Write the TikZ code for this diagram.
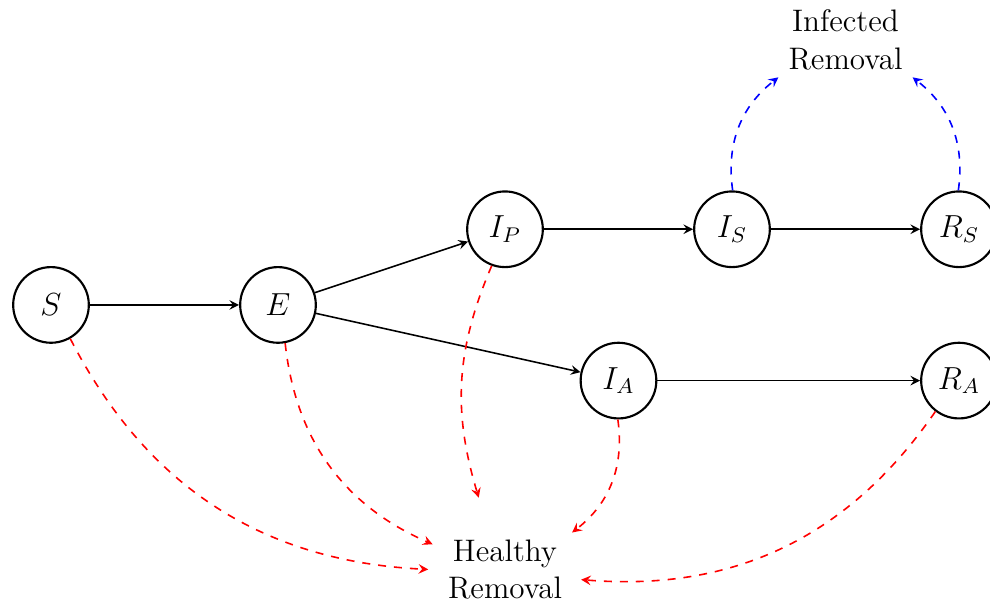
\documentclass[tikz,border=0pt]{standalone}
\usetikzlibrary{arrows}

\begin{document}
\begin{tikzpicture}[>=stealth,
	every node/.style={font=\fontsize{11.7}{14.1}\selectfont},
	comp/.style={circle, draw, thick, minimum size=1cm},
	removal/.style={circle, align=center},
	flow/.style={->, semithick},
	healthy/.style={->, semithick, dashed, red},
	infected/.style={->, semithick, dashed, blue}]
	\useasboundingbox (-0.674,-3.94) rectangle (12.41,4.03);
	% compartments
	\node[comp] (S) at (0,0) {$S$};
	\node[comp] (E) at (3,0) {$E$};
	\node[comp] (IP) at (6,1) {$I_P$};
	\node[comp] (IS) at (9,1) {$I_S$};
	\node[comp] (RS) at (12,1) {$R_S$};
	\node[comp] (IA) at (7.5,-1) {$I_A$};
	\node[comp] (RA) at (12,-1) {$R_A$};
	\node[removal] (HR) at (6,-3.5) {Healthy\\Removal};
	\node[removal] (IR) at (10.5,3.5) {Infected\\Removal};
	% transitions
	\draw[flow] (S) -- (E);
	\draw[flow] (E) -- (IP);
	\draw[flow] (E) -- (IA);
	\draw[flow] (IP) -- (IS);
	\draw[flow] (IS) -- (RS);
	\draw[flow] (IA) -- (RA);
	% removals
	\draw[healthy] (S) to[bend right=30] (HR);
	\draw[healthy] (E) to[bend right=30] (HR);
	\draw[healthy] (IP) to[bend right=20] (HR);
	\draw[healthy] (IA) to[bend left=30] (HR);
	\draw[healthy] (RA) to[bend left=30] (HR);
	\draw[infected] (IS) to[bend left=30] (IR);
	\draw[infected] (RS) to[bend right=30] (IR);
\end{tikzpicture}
\end{document}
